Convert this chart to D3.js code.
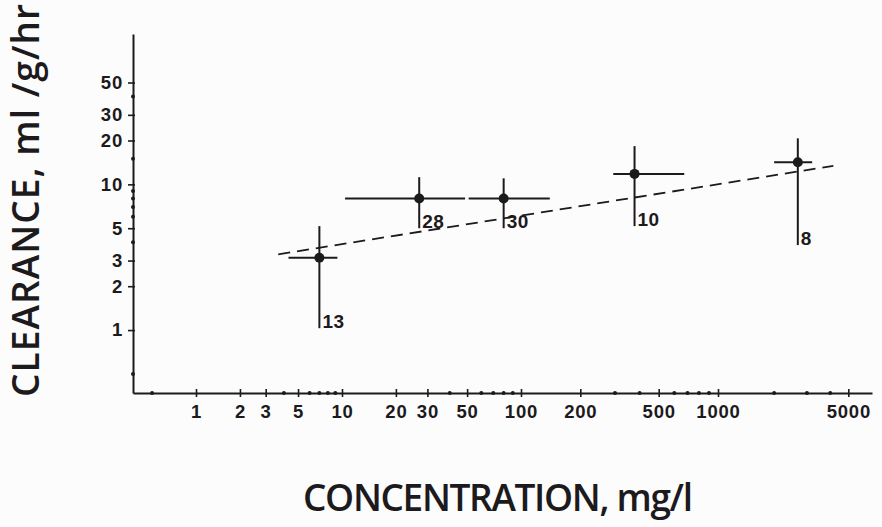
<!DOCTYPE html>
<html>
<head>
<meta charset="utf-8">
<script src="https://cdn.jsdelivr.net/npm/d3@7"></script>
<style>
  body { margin: 0; background: #fdfcfc; }
  svg { display: block; }
</style>
</head>
<body>
<svg id="chart" width="882" height="527"></svg>
<script>
// values
let concentration = [7, 27, 80, 377, 2680];
let concLow = [4.3, 10.4, 51, 294, 2000];
let concHigh = [9.3, 48.7, 140, 674, 3200];
let clearance = [3.14, 8.0, 8.0, 11.8, 14.2];
let clearLow = [1.03, 5.0, 5.0, 5.17, 3.83];
let clearHigh = [5.17, 11.2, 11.0, 18.3, 20.7];
let nObs = [13, 28, 30, 10, 8];

let fitX = [3.66, 4156];
let fitY = [3.31, 13.4];

let xTickLabels = [1, 2, 3, 5, 10, 20, 30, 50, 100, 200, 500, 1000, 5000];
let xMinorTicks = [0.5, 4, 6, 7, 8, 9, 40, 60, 70, 80, 90, 300, 400, 600, 700, 800, 900, 2000, 3000, 4000];
let yTickLabels = [1, 2, 3, 5, 10, 20, 30, 50];
let yMinorTicks = [0.5, 4, 6, 7, 8, 9, 15, 40];

let ink = "#1c1a1c";
let svg = d3.select("#chart");

// the printed scale is not quite an even log scale, the decades have different widths
let x = d3.scaleLog()
    .domain([0.37, 1, 10, 100, 1000, 6700])
    .range([133, 196, 342, 521, 718, 872]);

let y = d3.scaleLog()
    .domain([0.37, 107.6])
    .range([393, 34]);

let styleTicks = (g) => {
    g.selectAll(".tick text")
        .attr("font-family", "Liberation Sans, Arial, sans-serif")
        .attr("font-weight", "bold")
        .attr("font-size", 18.5)
        .attr("letter-spacing", 0.8)
        .attr("fill", ink);
}

let xAxis = svg.append("g")
    .attr("transform", "translate(0,393)")
    .call(d3.axisBottom(x).tickValues(xTickLabels).tickFormat(d3.format("d")).tickSizeOuter(0).tickSizeInner(4));
xAxis.select(".domain").attr("stroke", ink).attr("stroke-width", 2);
xAxis.selectAll(".tick line").attr("y1", -4).attr("stroke", ink).attr("stroke-width", 1.6);
xAxis.selectAll(".tick text").attr("y", 25).attr("dy", 0);
styleTicks(xAxis);

let yAxis = svg.append("g")
    .attr("transform", "translate(133,0)")
    .call(d3.axisLeft(y).tickValues(yTickLabels).tickFormat(d3.format("d")).tickSizeOuter(0).tickSizeInner(5).tickPadding(5));
yAxis.select(".domain").attr("stroke", ink).attr("stroke-width", 2);
yAxis.selectAll(".tick line").attr("x1", 2).attr("stroke", ink).attr("stroke-width", 1.6);
styleTicks(yAxis);

// minor ticks are just little dots on the axis
svg.selectAll(".xminor")
    .data(xMinorTicks)
    .enter()
    .append("circle")
    .attr("cx", d => x(d))
    .attr("cy", 393)
    .attr("r", 2)
    .attr("fill", ink);

svg.selectAll(".yminor")
    .data(yMinorTicks)
    .enter()
    .append("circle")
    .attr("cx", 133)
    .attr("cy", d => y(d))
    .attr("r", 2)
    .attr("fill", ink);

// fitted line
svg.append("line")
    .attr("x1", x(fitX[0]))
    .attr("y1", y(fitY[0]))
    .attr("x2", x(fitX[1]))
    .attr("y2", y(fitY[1]))
    .attr("stroke", ink)
    .attr("stroke-width", 1.8)
    .attr("stroke-dasharray", "12,7");

let points = concentration.map((c, i) => ({
    c: c, lo: concLow[i], hi: concHigh[i],
    v: clearance[i], vlo: clearLow[i], vhi: clearHigh[i], n: nObs[i]
}));

let marks = svg.selectAll(".pt")
    .data(points)
    .enter()
    .append("g");

marks.append("line")
    .attr("x1", d => x(d.lo))
    .attr("x2", d => x(d.hi))
    .attr("y1", d => y(d.v))
    .attr("y2", d => y(d.v))
    .attr("stroke", ink)
    .attr("stroke-width", 2);

marks.append("line")
    .attr("x1", d => x(d.c))
    .attr("x2", d => x(d.c))
    .attr("y1", d => y(d.vhi))
    .attr("y2", d => y(d.vlo))
    .attr("stroke", ink)
    .attr("stroke-width", 2);

marks.append("circle")
    .attr("cx", d => x(d.c))
    .attr("cy", d => y(d.v))
    .attr("r", 5)
    .attr("fill", ink);

marks.append("text")
    .attr("x", d => x(d.c) + 3)
    .attr("y", d => y(d.vlo))
    .attr("font-family", "Liberation Sans, Arial, sans-serif")
    .attr("font-weight", "bold")
    .attr("font-size", 19)
    .attr("letter-spacing", 0.5)
    .attr("fill", ink)
    .text(d => d.n);

// axis titles
svg.append("text")
    .attr("x", 303)
    .attr("y", 511)
    .attr("font-family", "Open Sans, sans-serif")
    .attr("font-weight", 600)
    .attr("font-size", 37)
    .attr("textLength", 390)
    .attr("lengthAdjust", "spacing")
    .attr("fill", ink)
    .text("CONCENTRATION, mg/l");

svg.append("text")
    .attr("transform", "translate(39,397) rotate(-90)")
    .attr("font-family", "Open Sans, sans-serif")
    .attr("font-weight", 600)
    .attr("font-size", 37)
    .attr("textLength", 393)
    .attr("lengthAdjust", "spacing")
    .attr("fill", ink)
    .text("CLEARANCE, ml /g/hr");
</script>
</body>
</html>
